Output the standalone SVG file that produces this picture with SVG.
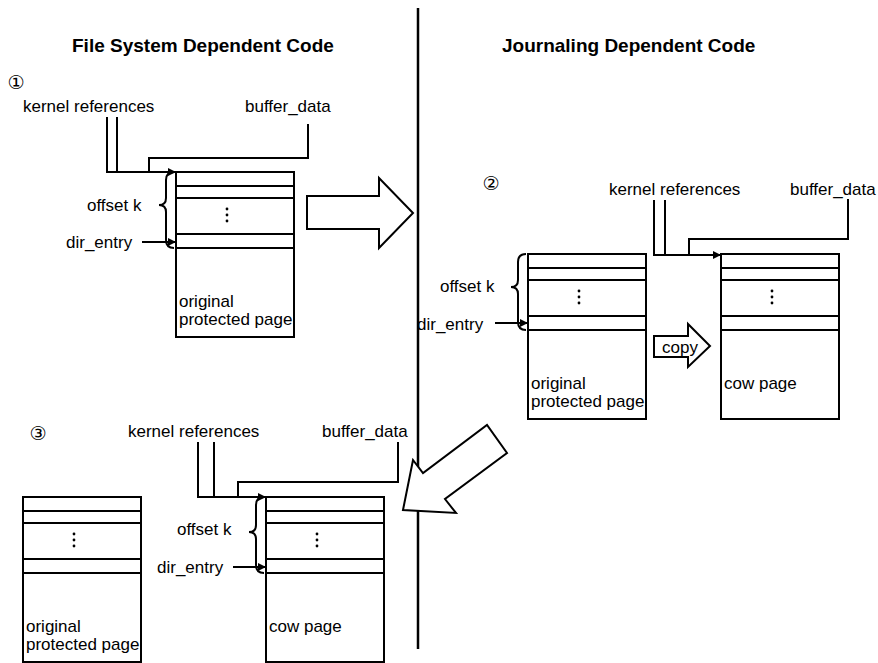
<svg xmlns="http://www.w3.org/2000/svg" width="878" height="663" viewBox="0 0 878 663">
<style>
text{font-family:"Liberation Sans",Arial,sans-serif;font-size:17px;fill:#000}
.t{font-weight:bold;font-size:19px}
.n{font-family:"DejaVu Sans","Noto Sans CJK SC",sans-serif;font-size:19px;text-anchor:middle}
.box{fill:#fff;stroke:#000;stroke-width:2}
.ln{fill:none;stroke:#000;stroke-width:2}
.big{fill:#fff;stroke:#000;stroke-width:2;stroke-linejoin:miter}
.dot{fill:#000}
</style>
<defs>
<marker id="ah" markerUnits="userSpaceOnUse" markerWidth="9" markerHeight="8" refX="8" refY="4" orient="auto">
<path d="M0,0 L8,4 L0,8 z" fill="#000"/>
</marker>
<g id="page">
<rect class="box" x="0" y="0" width="118" height="165"/>
<line class="ln" x1="0" y1="14" x2="118" y2="14"/>
<line class="ln" x1="0" y1="26" x2="118" y2="26"/>
<line class="ln" x1="0" y1="62" x2="118" y2="62"/>
<line class="ln" x1="0" y1="76" x2="118" y2="76"/>
<circle class="dot" cx="51" cy="37" r="1.4"/>
<circle class="dot" cx="51" cy="43" r="1.4"/>
<circle class="dot" cx="51" cy="49" r="1.4"/>
</g>
</defs>
<rect width="878" height="663" fill="#fff"/>

<g id="titles">
<text class="t" x="72" y="52">File System Dependent Code</text>
<text class="t" x="502" y="52">Journaling Dependent Code</text>
</g>

<line id="divider" x1="418" y1="8" x2="418" y2="649" stroke="#000" stroke-width="2.5"/>

<!-- Step 1 -->
<g id="step1">
<text class="n" x="16" y="89">①</text>
<g id="s1-page">
<use href="#page" x="176" y="172"/>
<text x="179" y="307">original</text>
<text x="179" y="325">protected page</text>
</g>
<text x="23" y="112">kernel references</text>
<text x="245" y="112">buffer_data</text>
<text x="87" y="211">offset k</text>
<text x="66" y="248">dir_entry</text>
</g>

<!-- Step 2 -->
<g id="step2">
<text class="n" x="491" y="190">②</text>
<g id="s2-orig">
<use href="#page" x="528" y="254"/>
<text x="531" y="389">original</text>
<text x="531" y="407">protected page</text>
</g>
<g id="s2-cow">
<use href="#page" x="721" y="254"/>
<text x="724" y="389">cow page</text>
</g>
<text x="609" y="195">kernel references</text>
<text x="790" y="195">buffer_data</text>
<text x="440" y="292">offset k</text>
<text x="417" y="330">dir_entry</text>
<g id="copy-arrow">
<polygon class="big" points="654,336 688,336 688,324 710,346 688,367 688,357 654,357"/>
<text x="662" y="353">copy</text>
</g>
</g>

<!-- Step 3 -->
<g id="step3">
<text class="n" x="38" y="440">③</text>
<g id="s3-orig">
<use href="#page" x="23" y="497"/>
<text x="26" y="632">original</text>
<text x="26" y="650">protected page</text>
</g>
<g id="s3-cow">
<use href="#page" x="266" y="497"/>
<text x="269" y="632">cow page</text>
</g>
<text x="128" y="437">kernel references</text>
<text x="322" y="437">buffer_data</text>
<text x="177" y="535">offset k</text>
<text x="157" y="573">dir_entry</text>
</g>

<g id="transitions">
<polygon class="big" points="307,196 379,196 379,178 413,213 379,248 379,229 307,229"/>
<polygon class="big" points="403,510 413,460 423,473 487,425 507,453 445,499 456,513"/>
</g>

<g id="connectors">
<!-- step 1 -->
<path class="ln" d="M107,117 V172 H176" marker-end="url(#ah)"/>
<path class="ln" d="M117,117 V172"/>
<path class="ln" d="M308,124 V158 H149 V172"/>
<path class="ln" d="M174,172 Q166,172 166,180 V198 Q166,205 159,205 Q166,205 166,212 V240 Q166,248 174,248"/>
<path class="ln" d="M142,242 H176" marker-end="url(#ah)"/>
<!-- step 2 -->
<path class="ln" d="M654,200 V255 H721" marker-end="url(#ah)"/>
<path class="ln" d="M665,200 V255"/>
<path class="ln" d="M848,199 V239 H689 V255"/>
<path class="ln" d="M526,254 Q518,254 518,262 V280 Q518,287 511,287 Q518,287 518,294 V322 Q518,330 526,330"/>
<path class="ln" d="M495,323 H528" marker-end="url(#ah)"/>
<!-- step 3 -->
<path class="ln" d="M198,442 V497 H266" marker-end="url(#ah)"/>
<path class="ln" d="M214,442 V497"/>
<path class="ln" d="M398,442 V482 H238 V497"/>
<path class="ln" d="M264,497 Q256,497 256,505 V525 Q256,532 249,532 Q256,532 256,539 V565 Q256,573 264,573"/>
<path class="ln" d="M233,567 H266" marker-end="url(#ah)"/>
</g>
</svg>
